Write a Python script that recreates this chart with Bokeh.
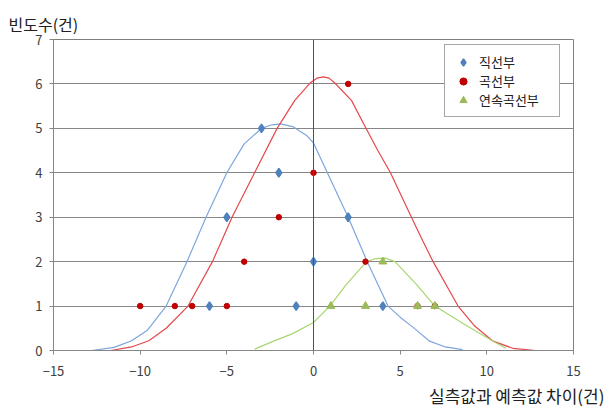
from bokeh.plotting import figure
from bokeh.models import (Span, Legend, LegendItem, FixedTicker, Range1d, Title)
from bokeh.embed import file_html
from bokeh.resources import INLINE

# ---- data ----
straight_x = [-6, -5, -3, -2, -1, 0, 2, 4]
straight_y = [1, 3, 5, 4, 1, 2, 3, 1]

curve_x = [-10, -8, -7, -5, -4, -2, 0, 2, 3, 6, 7]
curve_y = [1, 1, 1, 1, 2, 3, 4, 6, 2, 1, 1]

cont_x = [1, 3, 4, 6, 7]
cont_y = [1, 1, 2, 1, 1]

# fitted distribution curves
straight_fit_x = [-12.8, -11.5, -10.5, -9.6, -8.5, -7.3, -6.2, -5.0, -4.0, -3.0, -2.4, -1.9,
                  -1.2, -0.4, 0.0, 0.8, 2.0, 3.1, 4.3, 5.0, 5.75, 6.7, 7.6, 8.6]
straight_fit_y = [0.0, 0.07, 0.22, 0.45, 1.0, 2.0, 3.0, 4.0, 4.65, 5.0, 5.08, 5.1,
                  5.04, 4.84, 4.67, 4.0, 3.0, 2.0, 1.0, 0.75, 0.52, 0.21, 0.08, 0.02]

curve_fit_x = [-11.7, -10.5, -9.5, -8.5, -7.24, -5.83, -4.7, -3.4, -2.1, -1.08, -0.2, 0.2, 0.56,
               0.9, 1.23, 2.19, 2.9, 3.71, 4.44, 5.65, 6.3, 6.9, 8.34, 9.3, 10.36, 11.5, 12.8]
curve_fit_y = [0.0, 0.08, 0.22, 0.5, 1.0, 2.0, 3.0, 4.0, 5.0, 5.63, 6.02, 6.13, 6.16,
               6.13, 6.02, 5.63, 5.1, 4.5, 4.0, 3.0, 2.47, 2.0, 1.0, 0.55, 0.21, 0.05, 0.0]

cont_fit_x = [-3.4, -2.3, -1.2, 0.0, 0.94, 1.9, 3.06, 3.6, 4.15, 4.7, 5.94, 7.0, 8.7, 10.36, 11.1]
cont_fit_y = [0.03, 0.21, 0.38, 0.63, 1.0, 1.49, 2.0, 2.07, 2.08, 2.0, 1.49, 1.0, 0.59, 0.21, 0.05]

x_ticks = [-15, -10, -5, 0, 5, 10, 15]
y_ticks = [0, 1, 2, 3, 4, 5, 6, 7]

series_names = ["직선부", "곡선부", "연속곡선부"]
y_title = "빈도수(건)"
x_title = "실측값과 예측값 차이(건)"

FONT = "Noto Sans CJK KR"
GRID = "#868686"

p = figure(width=604, height=411, output_backend="svg", toolbar_location=None,
           x_range=Range1d(-15, 15), y_range=Range1d(0, 7),
           min_border_left=53, min_border_right=31, min_border_top=39, min_border_bottom=61)
p.background_fill_color = "white"
p.border_fill_color = "white"
p.outline_line_color = "#7f7f7f"
p.outline_line_width = 1

p.xgrid.visible = False
p.ygrid.grid_line_color = GRID
p.ygrid.grid_line_width = 1

p.xaxis.ticker = FixedTicker(ticks=x_ticks)
p.yaxis.ticker = FixedTicker(ticks=y_ticks)
for ax in (p.xaxis, p.yaxis):
    ax.axis_line_color = GRID
    ax.major_tick_line_color = GRID
    ax.minor_tick_line_color = None
    ax.major_tick_in = 0
    ax.major_tick_out = 4
    ax.major_label_text_font = FONT
    ax.major_label_text_font_size = "13px"
    ax.major_label_text_color = "#404040"
p.xaxis.major_label_standoff = 11
p.yaxis.major_label_standoff = 7

p.add_layout(Span(location=0, dimension="height", line_color="#505050", line_width=1))

p.line(straight_fit_x, straight_fit_y, line_color="#7ea6dc", line_width=1.2)
p.line(curve_fit_x, curve_fit_y, line_color="#e5484b", line_width=1.2)
p.line(cont_fit_x, cont_fit_y, line_color="#a8d672", line_width=1.2)

r1 = p.scatter(straight_x, straight_y, marker="diamond", size=8.5,
               fill_color="#4f81bd", line_color="#4f81bd", line_width=1.5)
r2 = p.scatter(curve_x, curve_y, marker="circle", size=5.5,
               fill_color="#c00000", line_color="#c00000")
r3 = p.scatter(cont_x, cont_y, marker="triangle", size=8,
               fill_color="#9bbb59", line_color="#9bbb59")

legend = Legend(items=[LegendItem(label=series_names[0], renderers=[r1]),
                       LegendItem(label=series_names[1], renderers=[r2]),
                       LegendItem(label=series_names[2] + "\u3000", renderers=[r3])],
                location=(391, 233), padding=7, spacing=0, margin=0,
                glyph_width=22, glyph_height=18, label_height=18,
                label_standoff=5, label_text_font=FONT, label_text_font_size="13px",
                label_text_color="#202020", border_line_color="#505050",
                border_line_width=1.5, background_fill_color="white", background_fill_alpha=1)
p.add_layout(legend, "center")

p.add_layout(Title(text=y_title, align="left", offset=-45, standoff=8,
                   text_font=FONT, text_font_size="16px", text_font_style="normal",
                   text_color="#202020"), "above")
p.add_layout(Title(text=x_title, align="right", offset=-31, standoff=5,
                   text_font=FONT, text_font_size="17px", text_font_style="normal",
                   text_color="#202020"), "below")

open("out.html", "w").write(file_html(p, INLINE))
